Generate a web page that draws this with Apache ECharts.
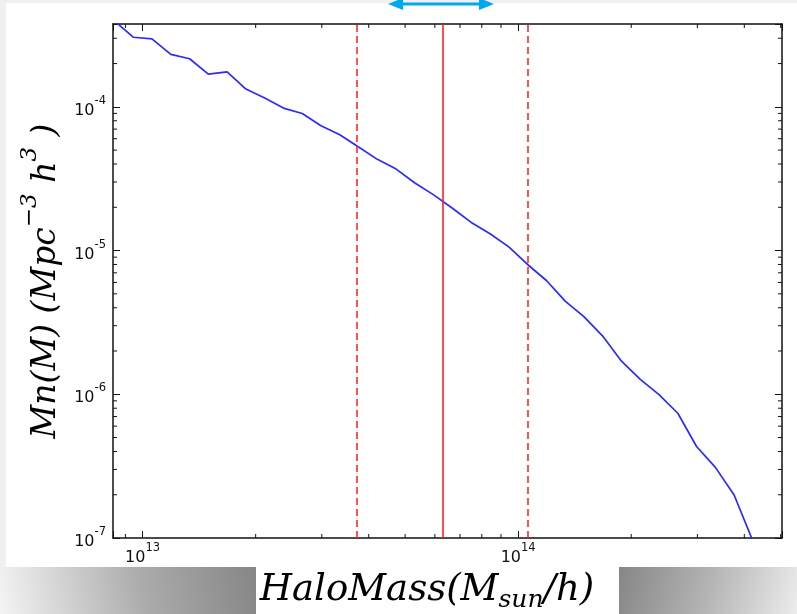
<!DOCTYPE html>
<html>
<head>
<meta charset="utf-8">
<script src="https://cdn.jsdelivr.net/npm/echarts@6/dist/echarts.min.js"></script>
<style>
html,body{margin:0;padding:0;background:#f0f0f0;}
#main{width:797px;height:614px;}
</style>
</head>
<body>
<div id="main"></div>
<script>
// ---- data ----
const massValues = [8.414e12, 9.441e12, 1.059e13, 1.189e13, 1.334e13, 1.496e13, 1.679e13, 1.884e13, 2.114e13, 2.371e13, 2.661e13, 2.985e13, 3.350e13, 3.758e13, 4.217e13, 4.732e13, 5.309e13, 5.957e13, 6.683e13, 7.499e13, 8.414e13, 9.441e13, 1.059e14, 1.189e14, 1.334e14, 1.496e14, 1.679e14, 1.884e14, 2.114e14, 2.371e14, 2.661e14, 2.985e14, 3.350e14, 3.758e14, 4.217e14];
const mnValues = [3.96e-4, 3.05e-4, 2.97e-4, 2.32e-4, 2.16e-4, 1.69e-4, 1.75e-4, 1.33e-4, 1.15e-4, 9.8e-5, 8.98e-5, 7.38e-5, 6.4e-5, 5.25e-5, 4.31e-5, 3.69e-5, 2.95e-5, 2.44e-5, 1.97e-5, 1.57e-5, 1.31e-5, 1.06e-5, 8.0e-6, 6.19e-6, 4.45e-6, 3.47e-6, 2.54e-6, 1.70e-6, 1.27e-6, 9.93e-7, 7.38e-7, 4.33e-7, 3.10e-7, 1.99e-7, 9.5e-8];
const dashedLines = [3.72e13, 1.06e14];
const solidLines = [6.3e13];
const xRange = [8.34e12, 5.04e14];
const yRange = [1e-7, 3.77e-4];
const xMinorTicks = [9e12, 2e13, 3e13, 4e13, 5e13, 6e13, 7e13, 8e13, 9e13, 2e14, 3e14, 4e14, 5e14];
const yMinorTicks = [2e-7, 3e-7, 4e-7, 5e-7, 6e-7, 7e-7, 8e-7, 9e-7, 2e-6, 3e-6, 4e-6, 5e-6, 6e-6, 7e-6, 8e-6, 9e-6, 2e-5, 3e-5, 4e-5, 5e-5, 6e-5, 7e-5, 8e-5, 9e-5, 2e-4, 3e-4];
const xTitle = '{i|HaloMass(M}{sub|sun}{i|/h)}';
const yTitle = '{i|Mn(M) (Mpc}{sup|\u22123}{i| h}{sup|3}{i| )}';

const chart = echarts.init(document.getElementById('main'), null, {renderer: 'canvas'});

function powLabel(v) {
  const l = Math.log10(v);
  const e = Math.round(l);
  if (Math.abs(l - e) > 1e-6) return '';
  return '{b|10}{s|' + e + '}';
}
const tickRich = {
  b: {fontFamily: 'DejaVu Sans', fontSize: 16, color: '#111', lineHeight: 24, verticalAlign: 'bottom'},
  s: {fontFamily: 'DejaVu Sans', fontSize: 11.5, color: '#111', lineHeight: 24, verticalAlign: 'top'}
};
const axisLineStyle = {color: '#111', width: 1.5};

function baseAxis(extra) {
  return Object.assign({
    type: 'log', logBase: 10,
    axisLine: {show: true, lineStyle: axisLineStyle},
    axisTick: {show: true, inside: true, length: 7, lineStyle: {color: '#111', width: 1}},
    splitLine: {show: false},
    minorTick: {show: false},
    minorSplitLine: {show: false}
  }, extra);
}

const lineData = massValues.map((m, i) => [m, mnValues[i]]);

function minorX(params, api) {
  const p = api.coord([api.value(0), yRange[0]]);
  const cs = params.coordSys;
  return {type: 'group', children: [
    {type: 'line', shape: {x1: p[0], y1: cs.y + cs.height, x2: p[0], y2: cs.y + cs.height - 4}, style: {stroke: '#111', lineWidth: 1}},
    {type: 'line', shape: {x1: p[0], y1: cs.y, x2: p[0], y2: cs.y + 4}, style: {stroke: '#111', lineWidth: 1}}
  ]};
}
function minorY(params, api) {
  const p = api.coord([xRange[0], api.value(1)]);
  const cs = params.coordSys;
  return {type: 'group', children: [
    {type: 'line', shape: {x1: cs.x, y1: p[1], x2: cs.x + 4, y2: p[1]}, style: {stroke: '#111', lineWidth: 1}},
    {type: 'line', shape: {x1: cs.x + cs.width, y1: p[1], x2: cs.x + cs.width - 4, y2: p[1]}, style: {stroke: '#111', lineWidth: 1}}
  ]};
}

const titleFont = 'DejaVu Serif';
const option = {
  backgroundColor: '#f0f0f0',
  animation: false,
  grid: {left: 113, top: 24, right: 15, bottom: 76, containLabel: false},
  xAxis: [
    baseAxis({min: xRange[0], max: xRange[1], position: 'bottom',
      axisLabel: {formatter: powLabel, rich: tickRich, margin: 4, showMinLabel: true, showMaxLabel: true, hideOverlap: false}}),
    baseAxis({min: xRange[0], max: xRange[1], position: 'top', axisLabel: {show: false}})
  ],
  yAxis: [
    baseAxis({min: yRange[0], max: yRange[1], position: 'left',
      axisLabel: {formatter: powLabel, rich: tickRich, margin: 7, showMinLabel: true, showMaxLabel: true, hideOverlap: false}}),
    baseAxis({min: yRange[0], max: yRange[1], position: 'right', axisLabel: {show: false}})
  ],
  graphic: [
    {type: 'rect', z: -100, shape: {x: 6, y: 3, width: 791, height: 564}, style: {fill: '#ffffff'}},
    {type: 'rect', z: -100, shape: {x: 0, y: 567, width: 256, height: 47},
      style: {fill: new echarts.graphic.LinearGradient(0, 1, 1, 0, [{offset: 0, color: '#f4f4f4'}, {offset: 0.55, color: '#acacac'}, {offset: 1, color: '#868686'}])}},
    {type: 'rect', z: -100, shape: {x: 256, y: 567, width: 363, height: 47}, style: {fill: '#ffffff'}},
    {type: 'rect', z: -100, shape: {x: 619, y: 567, width: 178, height: 47},
      style: {fill: new echarts.graphic.LinearGradient(0, 0, 1, 1, [{offset: 0, color: '#868686'}, {offset: 0.5, color: '#b4b4b4'}, {offset: 1, color: '#ececec'}])}},
    {type: 'line', z: 10, shape: {x1: 398, y1: 4, x2: 484, y2: 4}, style: {stroke: '#00a9ec', lineWidth: 3}},
    {type: 'polygon', z: 10, shape: {points: [[388, 4], [403, -2], [403, 10]]}, style: {fill: '#00a9ec'}},
    {type: 'polygon', z: 10, shape: {points: [[494, 4], [479, -2], [479, 10]]}, style: {fill: '#00a9ec'}},
    {type: 'text', z: 10, x: 427, y: 590,
      style: {text: xTitle, textAlign: 'center', textVerticalAlign: 'middle',
        rich: {
          i: {fontFamily: titleFont, fontStyle: 'italic', fontSize: 37, fill: '#000', lineHeight: 46, verticalAlign: 'middle'},
          sub: {fontFamily: titleFont, fontStyle: 'italic', fontSize: 25, fill: '#000', lineHeight: 46, verticalAlign: 'bottom'}
        }}},
    {type: 'text', z: 10, x: 41, y: 281, rotation: Math.PI / 2,
      style: {text: yTitle, textAlign: 'center', textVerticalAlign: 'middle',
        rich: {
          i: {fontFamily: titleFont, fontStyle: 'italic', fontSize: 33, fill: '#000', lineHeight: 44, verticalAlign: 'bottom'},
          sup: {fontFamily: titleFont, fontStyle: 'italic', fontSize: 23, fill: '#000', lineHeight: 44, verticalAlign: 'top'}
        }}}
  ],
  series: [
    {
      type: 'line', data: lineData, xAxisIndex: 0, yAxisIndex: 0,
      showSymbol: false, symbol: 'none', clip: true,
      lineStyle: {color: '#2b2bff', width: 1.7},
      z: 3,
      markLine: {
        silent: true, symbol: ['none', 'none'], label: {show: false},
        data: dashedLines.map(v => ({xAxis: v, lineStyle: {color: '#ff2a2a', width: 1.6, type: [7, 4]}}))
          .concat(solidLines.map(v => ({xAxis: v, lineStyle: {color: '#ff2020', width: 1.6, type: 'solid'}})))
      }
    },
    {type: 'custom', xAxisIndex: 0, yAxisIndex: 0, renderItem: minorX, data: xMinorTicks.map(v => [v, yRange[0]]), silent: true, z: 4},
    {type: 'custom', xAxisIndex: 0, yAxisIndex: 0, renderItem: minorY, data: yMinorTicks.map(v => [xRange[0], v]), silent: true, z: 4}
  ]
};
chart.setOption(option);
</script>
</body>
</html>
